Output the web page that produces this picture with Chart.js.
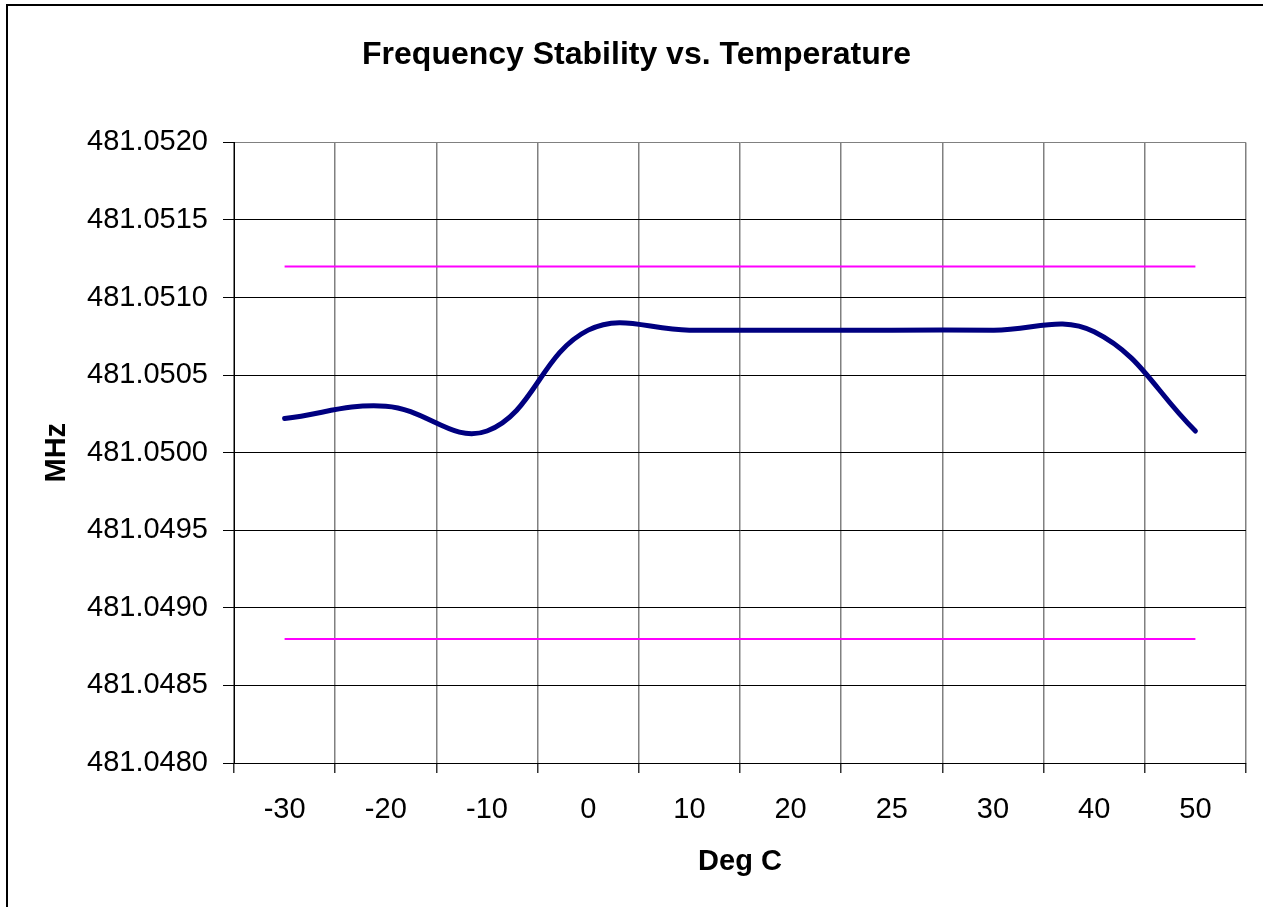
<!DOCTYPE html>
<html>
<head>
<meta charset="utf-8">
<title>Frequency Stability vs. Temperature</title>
<script src="https://cdn.jsdelivr.net/npm/chart.js@4.4.1/dist/chart.umd.min.js"></script>
<style>
  html, body { margin: 0; padding: 0; background: #ffffff; }
  canvas { display: block; }
</style>
</head>
<body>
<canvas id="chart" width="1263" height="907"></canvas>
<script>
// Temperature categories (Deg C) shown along the x axis
const categories = ['-30', '-20', '-10', '0', '10', '20', '25', '30', '40', '50'];

// Measured carrier frequency at each temperature (MHz)
const frequencyMHz = [481.05022, 481.05030, 481.05014, 481.05079, 481.05079, 481.05079, 481.05079, 481.05079, 481.05078, 481.05014];

// Tolerance limits (MHz)
const upperLimitMHz = [481.0512, 481.0512, 481.0512, 481.0512, 481.0512, 481.0512, 481.0512, 481.0512, 481.0512, 481.0512];
const lowerLimitMHz = [481.0488, 481.0488, 481.0488, 481.0488, 481.0488, 481.0488, 481.0488, 481.0488, 481.0488, 481.0488];

// Value axis range
const yMin = 481.0480;
const yMax = 481.0520;
const yStep = 0.0005;

Chart.defaults.font.family = "'Liberation Sans', Arial, Helvetica, sans-serif";
Chart.defaults.color = '#000000';

// White page with the outer frame of the chart object
const framePlugin = {
  id: 'frame',
  beforeDraw(chart) {
    const c = chart.ctx;
    c.save();
    c.fillStyle = '#ffffff';
    c.fillRect(0, 0, chart.width, chart.height);
    c.strokeStyle = '#000000';
    c.lineWidth = 2;
    c.strokeRect(7, 5, chart.width + 10, chart.height + 10);
    c.restore();
  }
};

new Chart(document.getElementById('chart'), {
  type: 'line',
  data: {
    labels: categories,
    datasets: [
      {
        label: 'Frequency',
        data: frequencyMHz,
        borderColor: '#000080',
        borderWidth: 5,
        pointRadius: 0,
        tension: 0.4,
        borderCapStyle: 'round',
        borderJoinStyle: 'round'
      },
      {
        label: 'Upper limit',
        data: upperLimitMHz,
        borderColor: '#ff00ff',
        borderWidth: 2,
        pointRadius: 0,
        tension: 0
      },
      {
        label: 'Lower limit',
        data: lowerLimitMHz,
        borderColor: '#ff00ff',
        borderWidth: 2,
        pointRadius: 0,
        tension: 0
      }
    ]
  },
  options: {
    responsive: false,
    animation: false,
    events: [],
    layout: { padding: { left: 27, right: 17, top: 0, bottom: 0 } },
    plugins: {
      legend: { display: false },
      tooltip: { enabled: false },
      title: {
        display: true,
        text: 'Frequency Stability vs. Temperature',
        color: '#000000',
        font: { size: 32, weight: 'bold' },
        padding: { top: 36, bottom: 68 }
      }
    },
    scales: {
      x: {
        offset: true,
        grid: {
          offset: true,
          color: '#808080',
          lineWidth: 1.5,
          drawTicks: true,
          tickLength: 10,
          tickColor: '#333333'
        },
        border: { color: '#000000', width: 1 },
        ticks: {
          color: '#000000',
          font: { size: 29 },
          padding: 20,
          maxRotation: 0,
          autoSkip: false
        },
        title: {
          display: true,
          text: 'Deg C',
          color: '#000000',
          font: { size: 29, weight: 'bold' },
          padding: { top: 0, bottom: 28 }
        },
        afterFit(scale) { scale.height = 144; }
      },
      y: {
        min: yMin,
        max: yMax,
        grid: {
          color: (ctx) => (ctx.tick && Math.abs(ctx.tick.value - yMax) < 1e-9 ? '#808080' : '#000000'),
          lineWidth: 1,
          drawTicks: true,
          tickLength: 11,
          tickColor: '#000000'
        },
        border: { color: '#000000', width: 1 },
        ticks: {
          stepSize: yStep,
          color: '#000000',
          font: { size: 29 },
          padding: 15,
          callback: (value) => value.toFixed(4)
        },
        title: {
          display: true,
          text: 'MHz',
          color: '#000000',
          font: { size: 29, weight: 'bold' },
          padding: { top: 13, bottom: 0 }
        },
        afterFit(scale) { scale.width = 234 - 27; }
      }
    }
  },
  plugins: [framePlugin]
});
</script>
</body>
</html>
